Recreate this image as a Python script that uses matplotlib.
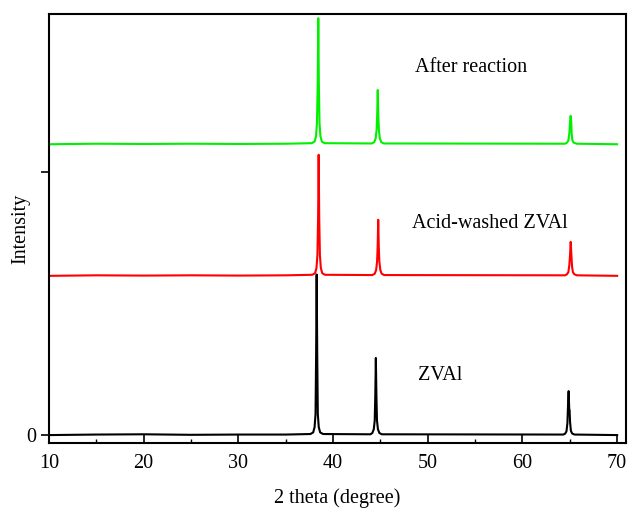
import matplotlib
matplotlib.use("Agg")
import matplotlib.pyplot as plt
from matplotlib.ticker import MultipleLocator

plt.rcParams['font.family'] = ['Liberation Serif', 'DejaVu Serif']

# ---- data ----
black_x = [10, 15, 20, 25, 30, 35, 37.6, 37.9, 38.05, 38.15, 38.21, 38.27, 38.33, 38.39, 38.49, 38.64, 38.95,
           43.95, 44.15, 44.3, 44.4, 44.46, 44.52, 44.58, 44.64, 44.74, 44.89, 45.15,
           64.3, 64.5, 64.65, 64.75, 64.82, 64.88, 64.94, 64.98, 65.03, 65.12, 65.25, 65.5, 70]
black_y = [0, 0.002, 0.003, 0.001, 0.002, 0.002, 0.004, 0.01, 0.03, 0.08, 0.3, 0.61, 0.3, 0.08, 0.03, 0.01, 0.004,
           0.003, 0.008, 0.022, 0.055, 0.15, 0.293, 0.15, 0.055, 0.022, 0.008, 0.003,
           0.002, 0.005, 0.014, 0.045, 0.12, 0.167, 0.1, 0.095, 0.05, 0.016, 0.006, 0.002, 0]

red_x = [10, 15, 20, 25, 30, 35, 37.8, 38.1, 38.25, 38.35, 38.42, 38.48, 38.54, 38.61, 38.71, 38.86, 39.15,
         44.15, 44.4, 44.55, 44.65, 44.71, 44.77, 44.83, 44.89, 44.99, 45.14, 45.4,
         64.5, 64.7, 64.85, 64.95, 65.03, 65.1, 65.17, 65.24, 65.33, 65.48, 65.75, 70]
red_y = [0, 0.002, 0.001, 0.002, 0.001, 0.002, 0.004, 0.01, 0.03, 0.08, 0.22, 0.46, 0.22, 0.08, 0.03, 0.01, 0.004,
         0.003, 0.008, 0.022, 0.055, 0.11, 0.213, 0.11, 0.055, 0.022, 0.008, 0.003,
         0.002, 0.006, 0.014, 0.04, 0.08, 0.129, 0.08, 0.035, 0.014, 0.006, 0.002, 0]

green_x = [10, 15, 20, 25, 30, 35, 37.75, 38.05, 38.2, 38.3, 38.38, 38.44, 38.5, 38.57, 38.67, 38.82, 39.1,
           44.1, 44.35, 44.5, 44.6, 44.66, 44.72, 44.78, 44.84, 44.94, 45.09, 45.35,
           64.5, 64.7, 64.85, 64.95, 65.03, 65.09, 65.15, 65.2, 65.28, 65.42, 65.75, 70]
green_y = [0, 0.002, 0.001, 0.002, 0.001, 0.002, 0.004, 0.01, 0.03, 0.08, 0.23, 0.479, 0.23, 0.08, 0.03, 0.01, 0.004,
           0.003, 0.008, 0.022, 0.055, 0.11, 0.206, 0.11, 0.055, 0.022, 0.008, 0.003,
           0.002, 0.006, 0.014, 0.04, 0.085, 0.108, 0.088, 0.04, 0.014, 0.006, 0.002, 0]

offsets = {'black': 0.0, 'red': 0.605, 'green': 1.105}
labels = ["ZVAl", "Acid-washed ZVAl", "After reaction"]

# ---- figure ----
fig = plt.figure(figsize=(6.28, 5.08), dpi=100)
ax = fig.add_axes([0.078, 0.128, 0.919, 0.8445])

ax.plot(black_x, [v + offsets['black'] for v in black_y], color='black', lw=1.5)
ax.plot(red_x, [v + offsets['red'] for v in red_y], color='#ff0000', lw=1.5)
ax.plot(green_x, [v + offsets['green'] for v in green_y], color='#00f000', lw=1.5)

ax.set_xlim(10, 70.95)
ax.set_ylim(-0.030, 1.60)

ax.xaxis.set_major_locator(MultipleLocator(10))
ax.xaxis.set_minor_locator(MultipleLocator(5))
ax.tick_params(axis='x', which='major', direction='in', length=6, width=1.2, labelsize=14.5, pad=8)
ax.tick_params(axis='x', which='minor', direction='in', length=3, width=1.0)
ax.set_yticks([0, 1])
ax.set_yticklabels(['0', ''])
ax.tick_params(axis='y', direction='out', length=6, width=1.2, labelsize=14.5)
for s in ax.spines.values():
    s.set_linewidth(1.5)

ax.set_xlabel('2 theta (degree)', fontsize=14.5, labelpad=11)
ax.set_ylabel('Intensity', fontsize=14.5, labelpad=-3)

ax.text(48.98, 0.209, labels[0], fontsize=14.5, va='baseline', ha='left')
ax.text(48.34, 0.787, labels[1], fontsize=14.5, va='baseline', ha='left')
ax.text(48.66, 1.380, labels[2], fontsize=14.5, va='baseline', ha='left')

fig.savefig('out.png', dpi=100)
